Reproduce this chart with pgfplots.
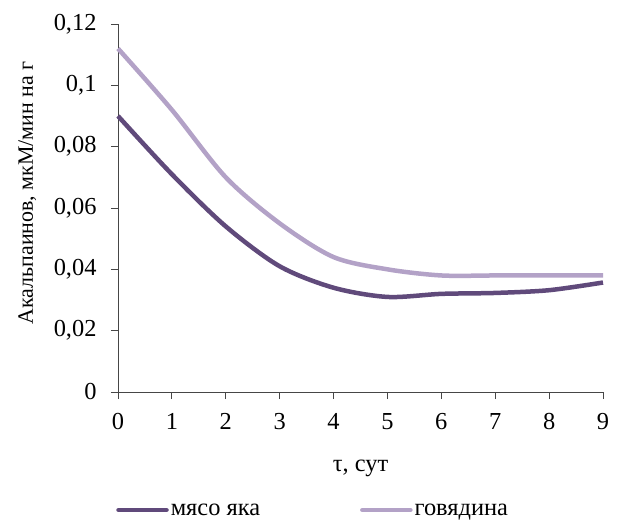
\documentclass[border=0pt]{standalone}
\usepackage{fontspec}
\setmainfont{Liberation Serif}
\usepackage{pgfplots}
\pgfplotsset{compat=1.18}
\definecolor{darkp}{RGB}{96,74,123}
\definecolor{lightp}{RGB}{179,162,199}
\definecolor{axgray}{RGB}{70,70,70}
\begin{document}
\begin{tikzpicture}[font=\fontsize{24.5}{28}\selectfont]
\useasboundingbox (-118bp,-131bp) rectangle (500bp,392bp);
\begin{axis}[
  at={(0,0)}, anchor=south west,
  scale only axis,
  width=485bp, height=368bp,
  xmin=0, xmax=9, ymin=0, ymax=0.12,
  xtick={0,1,...,9},
  ytick={0,0.02,0.04,0.06,0.08,0.1,0.12},
  axis lines*=left,
  axis line style={-, axgray, line width=0.8bp},
  tick style={axgray, line width=0.8bp},
  tick align=outside,
  major tick length=7bp,
  scaled y ticks=false,
  /pgf/number format/assume math mode=true,
  /pgf/number format/use comma,
  yticklabel style={/pgf/number format/fixed, /pgf/number format/precision=2},
  yticklabel shift=11bp,
  xticklabel shift=11bp,
  every axis y label/.style={at={(axis description cs:-0.187,0.541)}, rotate=90, anchor=center, font=\fontsize{22}{26}\selectfont},
  every axis x label/.style={at={(axis description cs:0.5,-0.2065)}, anchor=center},
  ylabel={Акальпаинов, мкМ/мин на г},
  xlabel={τ, сут},
  legend columns=2,
  legend style={draw=none, fill=none, at={(axis description cs:-0.004,-0.3207)}, anchor=west,
    inner sep=0pt,
    /tikz/every even column/.append style={column sep=98bp},
    nodes={inner sep=2bp}},
  legend image code/.code={\draw[#1, line cap=round] (0bp,0bp) -- (48bp,0bp);},
  clip=false,
]
\addplot[darkp, line width=4.5bp, smooth, tension=0.5] coordinates {
(0,0.090) (1,0.071) (2,0.054) (3,0.041) (4,0.034) (5,0.031) (6,0.032) (7,0.0323) (8,0.0332) (9,0.0357)};
\addlegendentry{мясо яка}
\addplot[lightp, line width=4.5bp, smooth, tension=0.5] coordinates {
(0,0.112) (1,0.092) (2,0.070) (3,0.055) (4,0.044) (5,0.040) (6,0.038) (7,0.038) (8,0.038) (9,0.038)};
\addlegendentry{говядина}
\end{axis}
\end{tikzpicture}
\end{document}
